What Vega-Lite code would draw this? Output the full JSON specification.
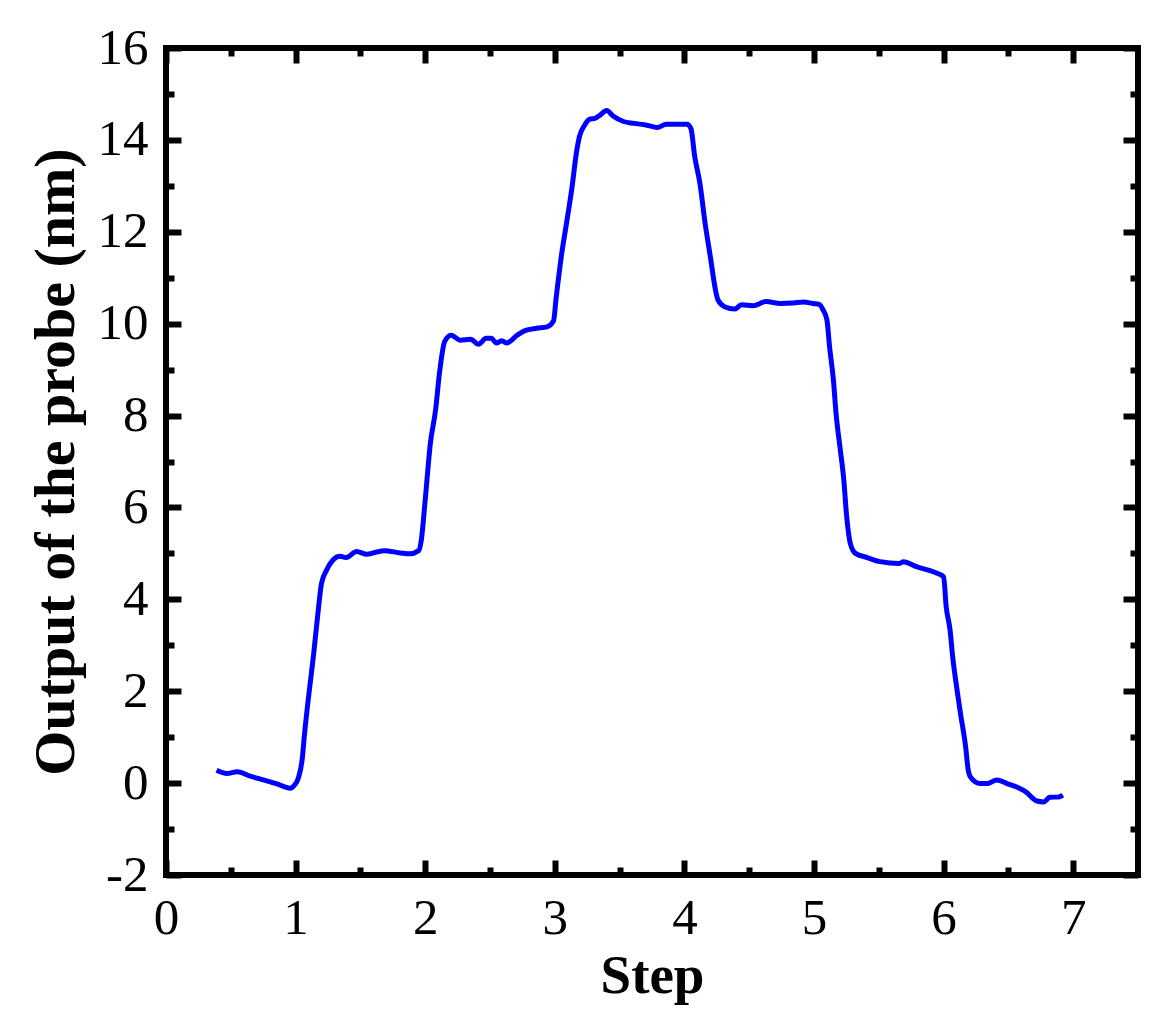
{
  "$schema": "https://vega.github.io/schema/vega-lite/v6.json",
  "autosize": {"type": "none"},
  "padding": {"left": 166, "top": 48, "right": 32, "bottom": 151},
  "width": 972,
  "height": 827,
  "background": "white",
  "config": {
    "view": {"stroke": "black", "strokeWidth": 6},
    "axis": {
      "font": "Liberation Serif",
      "labelFont": "Liberation Serif",
      "titleFont": "Liberation Serif",
      "labelColor": "black",
      "titleColor": "black",
      "tickColor": "black",
      "domain": false,
      "grid": false,
      "tickWidth": 6
    }
  },
  "data": {
    "values": [
      {"step": 0.39, "output": 0.28},
      {"step": 0.47, "output": 0.21},
      {"step": 0.55, "output": 0.25},
      {"step": 0.65, "output": 0.15},
      {"step": 0.75, "output": 0.07},
      {"step": 0.85, "output": -0.01},
      {"step": 0.96, "output": -0.11},
      {"step": 0.99, "output": -0.05},
      {"step": 1.02, "output": 0.10},
      {"step": 1.05, "output": 0.50},
      {"step": 1.07, "output": 1.10},
      {"step": 1.10, "output": 1.88},
      {"step": 1.137, "output": 2.75},
      {"step": 1.175, "output": 3.77},
      {"step": 1.20, "output": 4.35},
      {"step": 1.24, "output": 4.64},
      {"step": 1.29, "output": 4.86},
      {"step": 1.34, "output": 4.94},
      {"step": 1.39, "output": 4.91},
      {"step": 1.47, "output": 5.04},
      {"step": 1.55, "output": 4.98},
      {"step": 1.68, "output": 5.06},
      {"step": 1.81, "output": 5.01},
      {"step": 1.88, "output": 4.99},
      {"step": 1.95, "output": 5.06},
      {"step": 1.97, "output": 5.29},
      {"step": 2.00, "output": 6.16},
      {"step": 2.04, "output": 7.40},
      {"step": 2.08, "output": 8.12},
      {"step": 2.11, "output": 8.92},
      {"step": 2.15, "output": 9.61},
      {"step": 2.20, "output": 9.75},
      {"step": 2.27, "output": 9.64},
      {"step": 2.35, "output": 9.66},
      {"step": 2.41, "output": 9.55},
      {"step": 2.47, "output": 9.68},
      {"step": 2.51, "output": 9.68},
      {"step": 2.55, "output": 9.58},
      {"step": 2.59, "output": 9.63},
      {"step": 2.63, "output": 9.58},
      {"step": 2.71, "output": 9.75},
      {"step": 2.77, "output": 9.85},
      {"step": 2.86, "output": 9.90},
      {"step": 2.94, "output": 9.93},
      {"step": 2.99, "output": 10.06},
      {"step": 3.01, "output": 10.55},
      {"step": 3.05, "output": 11.46},
      {"step": 3.09, "output": 12.18},
      {"step": 3.13, "output": 12.91},
      {"step": 3.17, "output": 13.78},
      {"step": 3.19, "output": 14.07},
      {"step": 3.23, "output": 14.32},
      {"step": 3.27, "output": 14.45},
      {"step": 3.31, "output": 14.47},
      {"step": 3.35, "output": 14.54},
      {"step": 3.40, "output": 14.64},
      {"step": 3.45, "output": 14.52},
      {"step": 3.53, "output": 14.40},
      {"step": 3.61, "output": 14.36},
      {"step": 3.71, "output": 14.32},
      {"step": 3.79, "output": 14.27},
      {"step": 3.86, "output": 14.34},
      {"step": 4.02, "output": 14.34},
      {"step": 4.05, "output": 14.25},
      {"step": 4.08, "output": 13.63},
      {"step": 4.12, "output": 13.05},
      {"step": 4.16, "output": 12.18},
      {"step": 4.20, "output": 11.46},
      {"step": 4.24, "output": 10.73},
      {"step": 4.26, "output": 10.51},
      {"step": 4.31, "output": 10.37},
      {"step": 4.39, "output": 10.32},
      {"step": 4.44, "output": 10.41},
      {"step": 4.53, "output": 10.39},
      {"step": 4.63, "output": 10.48},
      {"step": 4.74, "output": 10.44},
      {"step": 4.84, "output": 10.45},
      {"step": 4.92, "output": 10.47},
      {"step": 4.99, "output": 10.44},
      {"step": 5.04, "output": 10.42},
      {"step": 5.07, "output": 10.30},
      {"step": 5.10, "output": 10.08},
      {"step": 5.12, "output": 9.50},
      {"step": 5.15, "output": 8.77},
      {"step": 5.17, "output": 8.05},
      {"step": 5.20, "output": 7.32},
      {"step": 5.23, "output": 6.60},
      {"step": 5.25, "output": 5.87},
      {"step": 5.28, "output": 5.22},
      {"step": 5.32, "output": 5.00},
      {"step": 5.41, "output": 4.91},
      {"step": 5.51, "output": 4.82},
      {"step": 5.66, "output": 4.78},
      {"step": 5.69, "output": 4.82},
      {"step": 5.79, "output": 4.71},
      {"step": 5.92, "output": 4.60},
      {"step": 6.00, "output": 4.49},
      {"step": 6.02, "output": 3.84},
      {"step": 6.05, "output": 3.33},
      {"step": 6.07, "output": 2.75},
      {"step": 6.10, "output": 2.10},
      {"step": 6.13, "output": 1.52},
      {"step": 6.17, "output": 0.79},
      {"step": 6.19, "output": 0.28},
      {"step": 6.21, "output": 0.12},
      {"step": 6.28, "output": -0.01},
      {"step": 6.34, "output": -0.01},
      {"step": 6.41, "output": 0.07},
      {"step": 6.49, "output": -0.01},
      {"step": 6.56, "output": -0.08},
      {"step": 6.63, "output": -0.18},
      {"step": 6.72, "output": -0.39},
      {"step": 6.77, "output": -0.41},
      {"step": 6.82, "output": -0.31},
      {"step": 6.89, "output": -0.30},
      {"step": 6.92, "output": -0.26}
    ]
  },
  "resolve": {"axis": {"x": "independent", "y": "independent"}},
  "layer": [
    {
      "mark": {"type": "line", "color": "#0000ff", "strokeWidth": 5, "interpolate": "monotone"},
      "encoding": {
        "x": {
          "field": "step", "type": "quantitative",
          "scale": {"domain": [0, 7.5], "nice": false, "zero": false},
          "axis": {
            "orient": "bottom", "values": [0, 1, 2, 3, 4, 5, 6, 7],
            "tickSize": -15, "labelPadding": 33, "labelFontSize": 51,
            "labelFlush": false,
            "title": "Step", "titleFontSize": 55, "titleFontWeight": "bold", "titlePadding": 6
          }
        },
        "y": {
          "field": "output", "type": "quantitative",
          "scale": {"domain": [-2, 16], "nice": false, "zero": false},
          "axis": {
            "orient": "left", "values": [-2, 0, 2, 4, 6, 8, 10, 12, 14, 16],
            "tickSize": -15, "labelPadding": 33, "labelFontSize": 51,
            "labelFlush": false, "labelExpr": "'' + datum.value",
            "title": "Output of the probe (nm)", "titleFontSize": 58, "titleFontWeight": "bold", "titlePadding": 12
          }
        }
      }
    },
    {
      "mark": {"type": "line", "opacity": 0},
      "encoding": {
        "x": {
          "field": "step", "type": "quantitative",
          "axis": {"orient": "bottom", "values": [0.5, 1.5, 2.5, 3.5, 4.5, 5.5, 6.5], "tickSize": -8, "labels": false, "title": null}
        },
        "y": {
          "field": "output", "type": "quantitative",
          "axis": {"orient": "left", "values": [-1, 1, 3, 5, 7, 9, 11, 13, 15], "tickSize": -8, "labels": false, "title": null}
        }
      }
    },
    {
      "mark": {"type": "line", "opacity": 0},
      "encoding": {
        "x": {
          "field": "step", "type": "quantitative",
          "axis": {"orient": "top", "values": [0, 1, 2, 3, 4, 5, 6, 7], "tickSize": -15, "labels": false, "title": null}
        },
        "y": {
          "field": "output", "type": "quantitative",
          "axis": {"orient": "right", "values": [-2, 0, 2, 4, 6, 8, 10, 12, 14, 16], "tickSize": -15, "labels": false, "title": null}
        }
      }
    },
    {
      "mark": {"type": "line", "opacity": 0},
      "encoding": {
        "x": {
          "field": "step", "type": "quantitative",
          "axis": {"orient": "top", "values": [0.5, 1.5, 2.5, 3.5, 4.5, 5.5, 6.5], "tickSize": -8, "labels": false, "title": null}
        },
        "y": {
          "field": "output", "type": "quantitative",
          "axis": {"orient": "right", "values": [-1, 1, 3, 5, 7, 9, 11, 13, 15], "tickSize": -8, "labels": false, "title": null}
        }
      }
    }
  ]
}
